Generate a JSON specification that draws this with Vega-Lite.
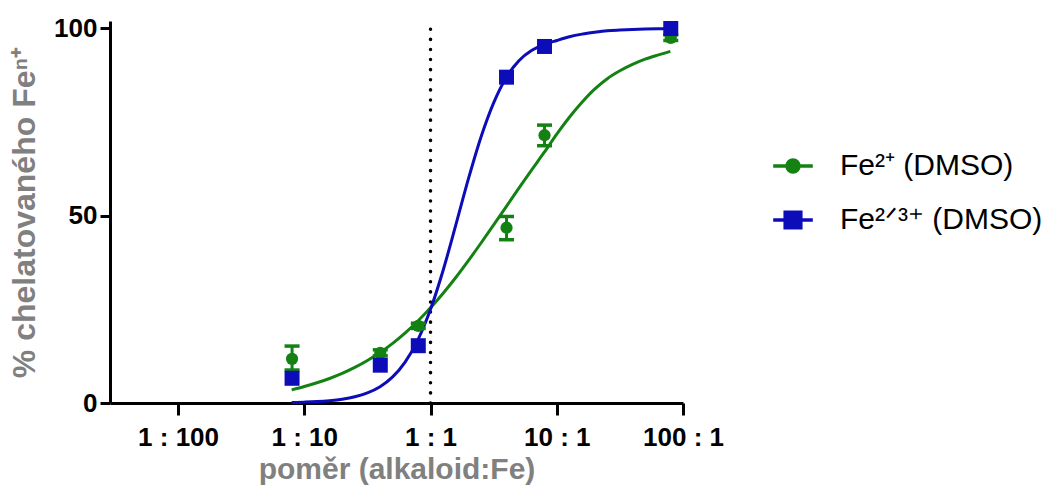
{
  "$schema": "https://vega.github.io/schema/vega-lite/v6.json",
  "width": 573,
  "height": 382,
  "autosize": {"type": "none"},
  "padding": {"left": 110, "top": 21, "right": 366, "bottom": 91},
  "background": "white",
  "config": {"view": {"stroke": null}, "font": "Liberation Sans"},
  "datasets": {
    "curves": [
      {"x": 0.07943, "y": 3.5, "series": "Fe2"},
      {"x": 0.1, "y": 4.4, "series": "Fe2"},
      {"x": 0.1259, "y": 5.4, "series": "Fe2"},
      {"x": 0.1585, "y": 6.55, "series": "Fe2"},
      {"x": 0.1995, "y": 7.9, "series": "Fe2"},
      {"x": 0.2512, "y": 9.5, "series": "Fe2"},
      {"x": 0.3162, "y": 11.36, "series": "Fe2"},
      {"x": 0.3981, "y": 13.48, "series": "Fe2"},
      {"x": 0.5012, "y": 15.93, "series": "Fe2"},
      {"x": 0.631, "y": 18.73, "series": "Fe2"},
      {"x": 0.7943, "y": 21.89, "series": "Fe2"},
      {"x": 1, "y": 25.41, "series": "Fe2"},
      {"x": 1.259, "y": 29.3, "series": "Fe2"},
      {"x": 1.585, "y": 33.51, "series": "Fe2"},
      {"x": 1.995, "y": 38.01, "series": "Fe2"},
      {"x": 2.512, "y": 42.72, "series": "Fe2"},
      {"x": 3.162, "y": 47.55, "series": "Fe2"},
      {"x": 3.981, "y": 52.45, "series": "Fe2"},
      {"x": 5.012, "y": 57.4, "series": "Fe2"},
      {"x": 6.31, "y": 62.2, "series": "Fe2"},
      {"x": 7.943, "y": 66.9, "series": "Fe2"},
      {"x": 10, "y": 71.8, "series": "Fe2"},
      {"x": 12.59, "y": 76.3, "series": "Fe2"},
      {"x": 15.85, "y": 80.3, "series": "Fe2"},
      {"x": 19.95, "y": 83.8, "series": "Fe2"},
      {"x": 25.12, "y": 86.6, "series": "Fe2"},
      {"x": 31.62, "y": 88.7, "series": "Fe2"},
      {"x": 39.81, "y": 90.4, "series": "Fe2"},
      {"x": 50.12, "y": 91.8, "series": "Fe2"},
      {"x": 63.1, "y": 92.9, "series": "Fe2"},
      {"x": 79.43, "y": 93.9, "series": "Fe2"},
      {"x": 0.07943, "y": 0.14, "series": "Fe23"},
      {"x": 0.1, "y": 0.23, "series": "Fe23"},
      {"x": 0.1259, "y": 0.37, "series": "Fe23"},
      {"x": 0.1585, "y": 0.62, "series": "Fe23"},
      {"x": 0.1995, "y": 1.01, "series": "Fe23"},
      {"x": 0.2512, "y": 1.65, "series": "Fe23"},
      {"x": 0.3162, "y": 2.69, "series": "Fe23"},
      {"x": 0.3981, "y": 4.35, "series": "Fe23"},
      {"x": 0.5012, "y": 6.96, "series": "Fe23"},
      {"x": 0.631, "y": 10.97, "series": "Fe23"},
      {"x": 0.7943, "y": 16.86, "series": "Fe23"},
      {"x": 1, "y": 25.03, "series": "Fe23"},
      {"x": 1.259, "y": 35.46, "series": "Fe23"},
      {"x": 1.585, "y": 47.51, "series": "Fe23"},
      {"x": 1.995, "y": 59.84, "series": "Fe23"},
      {"x": 2.512, "y": 71.05, "series": "Fe23"},
      {"x": 3.162, "y": 80.15, "series": "Fe23"},
      {"x": 3.981, "y": 86.93, "series": "Fe23"},
      {"x": 5.012, "y": 91.4, "series": "Fe23"},
      {"x": 6.31, "y": 94.1, "series": "Fe23"},
      {"x": 7.943, "y": 95.7, "series": "Fe23"},
      {"x": 10, "y": 96.8, "series": "Fe23"},
      {"x": 12.59, "y": 97.8, "series": "Fe23"},
      {"x": 15.85, "y": 98.5, "series": "Fe23"},
      {"x": 19.95, "y": 99.0, "series": "Fe23"},
      {"x": 25.12, "y": 99.4, "series": "Fe23"},
      {"x": 31.62, "y": 99.6, "series": "Fe23"},
      {"x": 39.81, "y": 99.75, "series": "Fe23"},
      {"x": 50.12, "y": 99.85, "series": "Fe23"},
      {"x": 63.1, "y": 99.9, "series": "Fe23"},
      {"x": 79.43, "y": 99.95, "series": "Fe23"}
    ],
    "points": [
      {"x": 0.08, "y": 11.8, "lo": 8.8, "hi": 15.2, "series": "Fe2"},
      {"x": 0.4, "y": 13.4, "lo": 12.6, "hi": 14.2, "series": "Fe2"},
      {"x": 0.8, "y": 20.6, "lo": 19.9, "hi": 21.3, "series": "Fe2"},
      {"x": 4, "y": 46.8, "lo": 43.6, "hi": 49.8, "series": "Fe2"},
      {"x": 8, "y": 71.5, "lo": 68.7, "hi": 74.2, "series": "Fe2"},
      {"x": 80, "y": 97.5, "lo": 96.8, "hi": 98.3, "series": "Fe2"},
      {"x": 0.08, "y": 6.6, "lo": 6.6, "hi": 6.6, "series": "Fe23"},
      {"x": 0.4, "y": 10.1, "lo": 10.1, "hi": 10.1, "series": "Fe23"},
      {"x": 0.8, "y": 15.3, "lo": 15.3, "hi": 15.3, "series": "Fe23"},
      {"x": 4, "y": 87.0, "lo": 87.0, "hi": 87.0, "series": "Fe23"},
      {"x": 8, "y": 95.2, "lo": 95.2, "hi": 95.2, "series": "Fe23"},
      {"x": 80, "y": 100, "lo": 100, "hi": 100, "series": "Fe23"}
    ]
  },
  "layer": [
    {
      "data": {"values": [{"ratio": 1}]},
      "mark": {"type": "rule", "color": "black", "strokeWidth": 3.5, "strokeDash": [0.1, 10], "strokeCap": "round"},
      "encoding": {
        "x": {"field": "ratio", "type": "quantitative"},
        "y": {"datum": 0},
        "y2": {"datum": 102}
      }
    },
    {
      "data": {"name": "curves"},
      "mark": {"type": "line", "strokeWidth": 3, "interpolate": "monotone"},
      "encoding": {
        "x": {
          "field": "x", "type": "quantitative", "title": "poměr (alkaloid:Fe)",
          "scale": {"type": "log", "domain": [0.00289, 100], "nice": false},
          "axis": {
            "values": [0.01, 0.1, 1, 10, 100],
            "labelExpr": "datum.value < 0.05 ? '1 : 100' : datum.value < 0.5 ? '1 : 10' : datum.value < 5 ? '1 : 1' : datum.value < 50 ? '10 : 1' : '100 : 1'",
            "grid": false,
            "domainColor": "black", "domainWidth": 3,
            "tickColor": "black", "tickWidth": 3, "tickSize": 12,
            "labelFont": "Liberation Sans", "labelFontSize": 26, "labelFontWeight": "bold", "labelColor": "black",
            "labelPadding": 9, "labelFlush": false, "labelOverlap": false,
            "titleFont": "Liberation Sans", "titleFontSize": 30, "titleFontWeight": "bold", "titleColor": "#808080",
            "titlePadding": 4
          }
        },
        "y": {
          "field": "y", "type": "quantitative", "title": "% chelatovaného Feⁿ⁺",
          "scale": {"domain": [0, 102], "nice": false},
          "axis": {
            "values": [0, 50, 100],
            "grid": false,
            "domainColor": "black", "domainWidth": 3,
            "tickColor": "black", "tickWidth": 3, "tickSize": 10,
            "labelFont": "Liberation Sans", "labelFontSize": 26, "labelFontWeight": "bold", "labelColor": "black",
            "labelPadding": 3, "labelFlush": false,
            "titleFont": "Liberation Sans", "titleFontSize": 32, "titleFontWeight": "bold", "titleColor": "#808080",
            "titlePadding": 12
          }
        },
        "color": {
          "field": "series", "type": "nominal",
          "scale": {"domain": ["Fe2", "Fe23"], "range": ["#138213", "#0c0cb8"]}
        }
      }
    },
    {
      "data": {"name": "points"},
      "transform": [{"filter": "datum.series == 'Fe2'"}],
      "mark": {"type": "errorbar", "thickness": 3, "opacity": 1, "ticks": {"size": 15, "thickness": 3.5, "opacity": 1}, "rule": {"opacity": 1}},
      "encoding": {
        "x": {"field": "x", "type": "quantitative", "title": "poměr (alkaloid:Fe)"},
        "y": {"field": "lo", "type": "quantitative", "title": "% chelatovaného Feⁿ⁺"},
        "y2": {"field": "hi"},
        "color": {"field": "series", "type": "nominal"}
      }
    },
    {
      "data": {"name": "points"},
      "transform": [{"filter": "datum.series == 'Fe2'"}],
      "mark": {"type": "point", "filled": true, "shape": "circle", "size": 150, "opacity": 1},
      "encoding": {
        "x": {"field": "x", "type": "quantitative", "title": "poměr (alkaloid:Fe)"},
        "y": {"field": "y", "type": "quantitative", "title": "% chelatovaného Feⁿ⁺"},
        "color": {"field": "series", "type": "nominal"}
      }
    },
    {
      "data": {"name": "points"},
      "transform": [{"filter": "datum.series == 'Fe23'"}],
      "mark": {"type": "point", "filled": true, "shape": "square", "size": 225, "opacity": 1},
      "encoding": {
        "x": {"field": "x", "type": "quantitative", "title": "poměr (alkaloid:Fe)"},
        "y": {"field": "y", "type": "quantitative", "title": "% chelatovaného Feⁿ⁺"},
        "color": {"field": "series", "type": "nominal"}
      }
    },
    {
      "data": {"name": "points"},
      "mark": {"type": "point", "size": 144, "opacity": 0, "strokeWidth": 3, "filled": true},
      "encoding": {
        "x": {"field": "x", "type": "quantitative", "title": "poměr (alkaloid:Fe)"},
        "y": {"field": "y", "type": "quantitative", "title": "% chelatovaného Feⁿ⁺"},
        "color": {
          "field": "series", "type": "nominal",
          "legend": {
            "title": null, "orient": "none", "legendX": 668, "legendY": 130,
            "labelFont": "Liberation Sans", "labelFontSize": 30, "labelColor": "black",
            "labelExpr": "datum.value == 'Fe2' ? 'Fe²⁺ (DMSO)' : 'Fe²ᐟ³⁺ (DMSO)'",
            "symbolSize": 144, "symbolStrokeWidth": 3.5, "symbolOpacity": 1,
            "labelOffset": 32, "rowPadding": 24, "labelLimit": 400
          }
        },
        "shape": {
          "field": "series", "type": "nominal",
          "scale": {"domain": ["Fe2", "Fe23"], "range": ["M-3.3,0L3.3,0M1,0A1,1,0,1,1,-1,0A1,1,0,1,1,1,0Z", "M-3.3,0L3.3,0M-1.3,-1.3L1.3,-1.3L1.3,1.3L-1.3,1.3Z"]},
          "legend": {
            "title": null, "orient": "none", "legendX": 668, "legendY": 130,
            "labelFont": "Liberation Sans", "labelFontSize": 30, "labelColor": "black",
            "labelExpr": "datum.value == 'Fe2' ? 'Fe²⁺ (DMSO)' : 'Fe²ᐟ³⁺ (DMSO)'",
            "symbolSize": 144, "symbolStrokeWidth": 3.5, "symbolOpacity": 1,
            "labelOffset": 32, "rowPadding": 24, "labelLimit": 400
          }
        }
      }
    }
  ]
}
